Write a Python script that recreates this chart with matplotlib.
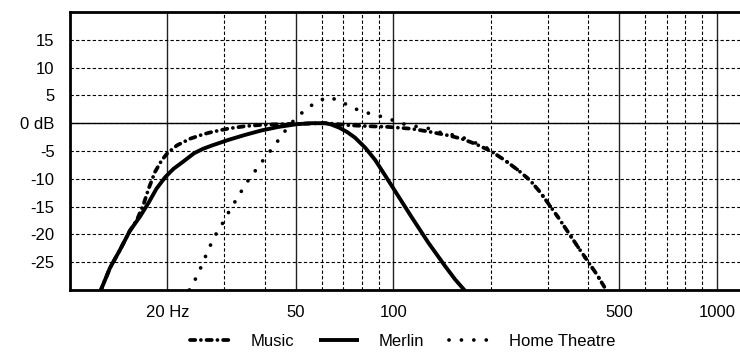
import matplotlib
matplotlib.use("Agg")
import matplotlib.pyplot as plt

plt.rcParams['font.family'] = ['Liberation Sans', 'DejaVu Sans']

# response curves (Hz, dB)
music_f = [12.4, 13.3, 14.3, 15.3, 16.1, 16.9, 17.5, 18.3, 19.2, 20.0, 21.4, 23.5, 25.8, 27.4, 30.9,
           34.8, 39.1, 44.1, 50.2, 62.5, 72.6, 83.7, 96.5, 113.9, 128.3, 147.9, 162.7, 178.9, 200,
           221.6, 243.7, 264.9, 284.3, 301.8, 323.9, 347.9, 373.6, 401, 425.6, 451.9, 460]
music_db = [-30.3, -26.0, -22.7, -19.4, -17.4, -14.5, -11.8, -8.8, -6.7, -5.4, -4.0, -2.8, -2.0, -1.6, -0.96,
            -0.54, -0.3, -0.18, -0.1, 0, -0.36, -0.54, -0.67, -1.0, -1.5, -2.2, -2.8, -3.7, -5.0,
            -6.7, -8.5, -10.3, -12.4, -14.5, -17.0, -19.7, -22.4, -25.0, -27.2, -29.7, -30.5]

merlin_f = [12.4, 13.3, 14.3, 15.3, 16.5, 17.5, 18.5, 19.7, 20.9, 22.4, 24.2, 25.8, 27.5, 30.9, 34.8,
            39.1, 44.1, 50.2, 55.9, 61.5, 64, 68, 72, 76.1, 81.8, 87.8, 94.3, 101.2, 113.9, 128.3,
            144.5, 155.2, 167.5]
merlin_db = [-30.3, -26.0, -22.7, -19.4, -16.7, -14.3, -11.8, -9.7, -8.2, -6.9, -5.4, -4.6, -4.0, -3.0, -2.1,
             -1.3, -0.67, -0.18, 0, 0, -0.2, -0.8, -1.6, -2.6, -4.4, -6.6, -9.4, -12.2, -16.9, -21.5,
             -25.7, -28.1, -30.3]

ht_f = [23.4, 24.6, 25.5, 26.4, 27.4, 28.6, 30.1, 31.2, 32.8, 34.4, 36.2, 38.3, 40.3, 42.7, 44.9, 47.5,
        50.3, 54.0, 58.0, 63.2, 68.9, 74.5, 81.2, 87.9, 96.5, 105, 115, 127, 138, 150, 163, 177, 193,
        200, 221.6, 243.7, 264.9, 284.3, 301.8, 323.9, 347.9, 373.6, 401, 425.6, 451.9]
ht_db = [-30, -27.7, -25.7, -23.6, -21.5, -19.4, -17.4, -15.6, -13.6, -11.6, -9.6, -7.8, -6.0, -4.2, -2.4, -0.5,
         1.1, 2.6, 3.9, 4.7, 3.9, 2.8, 2.0, 1.5, 0.85, 0.0, -0.5, -0.85, -1.6, -2.0, -2.5, -3.4, -4.3,
         -5.0, -6.7, -8.5, -10.3, -12.4, -14.5, -17.0, -19.7, -22.4, -25.0, -27.2, -29.7]

x_major = [20, 50, 100, 500, 1000]
x_labels = ['20 Hz', '50', '100', '500', '1000']
x_minor = [30, 40, 60, 70, 80, 90, 200, 300, 400, 600, 700, 800, 900]
y_ticks = [-25, -20, -15, -10, -5, 0, 5, 10, 15]
y_labels = ['-25', '-20', '-15', '-10', '-5', '0 dB', '5', '10', '15']

fig = plt.figure(figsize=(7.4, 3.52), dpi=100)
ax = fig.add_axes([70 / 740, 62 / 352, 670 / 740, 278 / 352])

ax.plot(music_f, music_db, color='black', lw=2.7, ls=(0, (1.4, 1.5, 0.01, 1.5)),
        dash_capstyle='round', solid_joinstyle='round', label='Music', zorder=3)
ax.plot(merlin_f, merlin_db, color='black', lw=2.8, solid_capstyle='butt',
        solid_joinstyle='round', label='Merlin', zorder=4)
ax.plot(ht_f, ht_db, color='black', lw=2.7, ls=(0, (0.01, 3.3)),
        dash_capstyle='round', label='Home Theatre', zorder=3)

ax.set_xscale('log')
ax.set_xlim(10, 1180)
ax.set_ylim(-30, 20)

ax.set_xticks(x_major)
ax.set_xticklabels(x_labels)
ax.set_xticks(x_minor, minor=True)
ax.set_xticklabels([], minor=True)
ax.set_yticks(y_ticks)
ax.set_yticklabels(y_labels)
ax.tick_params(which='both', length=0, labelsize=12)
ax.tick_params(axis='x', pad=11)
ax.tick_params(axis='y', pad=11)

ax.grid(axis='x', which='major', color='#222222', lw=1, ls='-', zorder=1)
ax.grid(axis='x', which='minor', color='black', lw=0.8, ls=(0, (3, 2)), zorder=1)
ax.grid(axis='y', which='major', color='black', lw=0.8, ls=(0, (3, 2)), zorder=1)
ax.axhline(0, color='black', lw=1, zorder=2)
ax.set_axisbelow(True)

for side in ['left', 'top', 'bottom']:
    ax.spines[side].set_linewidth(2)
ax.spines['right'].set_visible(False)

fig.legend(loc='center', bbox_to_anchor=(403 / 740, 11 / 352), ncol=3, frameon=False,
           fontsize=12, handlelength=2.4, handletextpad=1.2, columnspacing=1.5)

fig.savefig('out.png', dpi=100)
